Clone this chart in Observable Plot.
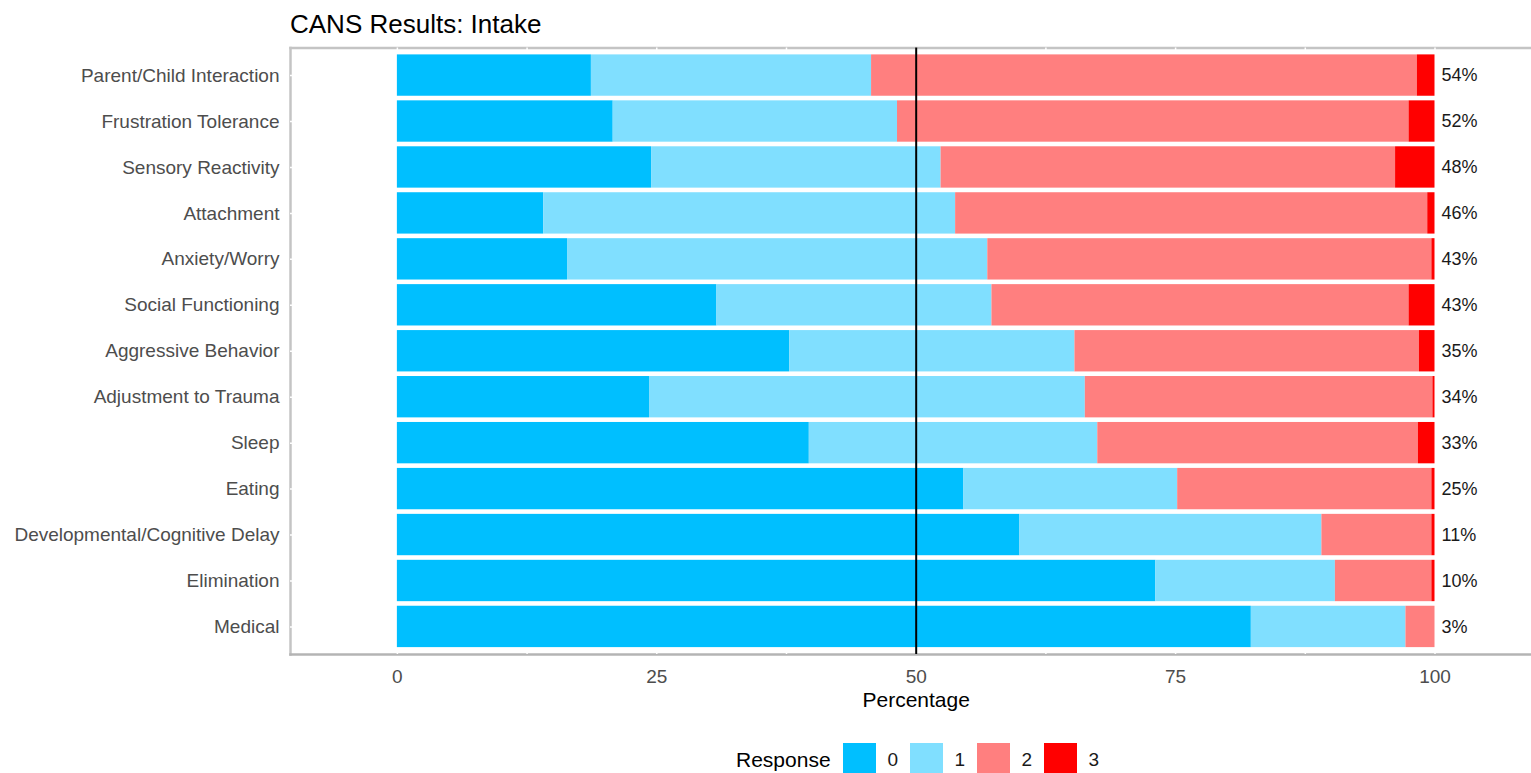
<!DOCTYPE html>
<html>
<head>
<meta charset="utf-8">
<script src="https://cdn.jsdelivr.net/npm/d3@7"></script>
<script src="https://cdn.jsdelivr.net/npm/@observablehq/plot@0.6"></script>
<style>
  html, body { margin: 0; padding: 0; background: #fff; overflow: hidden; }
  body { width: 1531px; height: 773px; position: relative; font-family: "Liberation Sans", Arial, sans-serif; }
  #title { position: absolute; left: 290px; top: 11px; font-size: 26px; line-height: 26px; color: #000; white-space: nowrap; }
  #chart { position: absolute; left: 0; top: 40px; }
  #legend { position: absolute; left: 736px; top: 743px; display: flex; align-items: center; height: 33px; }
  #legend .ttl { font-size: 21px; color: #000; margin-right: 12px; }
  #legend .key { width: 33px; height: 33px; margin-right: 12px; }
  #legend .lab { font-size: 19px; color: #1a1a1a; margin-right: 12px; width: 10px; }
</style>
</head>
<body>
<div id="title">CANS Results: Intake</div>
<div id="chart"></div>
<div id="legend"></div>
<script>
const categories = [
  "Parent/Child Interaction", "Frustration Tolerance", "Sensory Reactivity", "Attachment",
  "Anxiety/Worry", "Social Functioning", "Aggressive Behavior", "Adjustment to Trauma",
  "Sleep", "Eating", "Developmental/Cognitive Delay", "Elimination", "Medical"
];
const resp0 = [18.7, 20.8, 24.5, 14.1, 16.4, 30.8, 37.8, 24.3, 39.7, 54.6, 60.0, 73.1, 82.3];
const resp1 = [27.0, 27.4, 27.9, 39.7, 40.5, 26.5, 27.5, 42.0, 27.8, 20.6, 29.1, 17.3, 14.9];
const resp2 = [52.6, 49.3, 43.8, 45.5, 42.8, 40.2, 33.2, 33.5, 30.9, 24.5, 10.6, 9.3, 2.8];
const resp3 = [1.7, 2.5, 3.8, 0.7, 0.3, 2.5, 1.5, 0.2, 1.6, 0.3, 0.3, 0.3, 0.0];
const pctLabels = ["54%", "52%", "48%", "46%", "43%", "43%", "35%", "34%", "33%", "25%", "11%", "10%", "3%"];
const responses = ["0", "1", "2", "3"];
const colors = ["#00BFFF", "#80DFFF", "#FF7F7F", "#FF0000"];
const xTicks = [0, 25, 50, 75, 100];
const gridTicks = [0, 12.5, 25, 37.5, 50, 62.5, 75, 87.5, 100];
const xDomain = [-10.3, 109.3];
const midline = 50;
const labelAt = 100;

const series = [resp0, resp1, resp2, resp3];
const long = [];
categories.forEach((c, i) => {
  responses.forEach((r, j) => long.push({category: c, response: r, value: series[j][i]}));
});
const labels = categories.map((c, i) => ({category: c, text: pctLabels[i], x: labelAt}));

const plot = Plot.plot({
  width: 1531,
  height: 680,
  marginLeft: 290,
  marginRight: 0,
  marginTop: 7.5,
  marginBottom: 66,
  style: {fontFamily: "'Liberation Sans', Arial, sans-serif", fontSize: "19px", background: "white", overflow: "visible"},
  x: {domain: xDomain, label: null},
  y: {domain: categories, paddingInner: 0.1, paddingOuter: 0.15, round: false, label: null},
  color: {domain: responses, range: colors},
  marks: [
    Plot.frame({anchor: "left", stroke: "#C4C4C4", strokeWidth: 2.5}),
    Plot.frame({anchor: "top", stroke: "#C4C4C4", strokeWidth: 2.5}),
    Plot.frame({anchor: "bottom", stroke: "#B4B4B4", strokeWidth: 2.5}),
    Plot.gridX(gridTicks, {stroke: "white", strokeOpacity: 1, strokeWidth: 1.5}),
    Plot.gridY({stroke: "white", strokeOpacity: 1, strokeWidth: 1.5}),
    Plot.barX(long, Plot.stackX({y: "category", x: "value", fill: "response", order: null})),
    Plot.ruleX([midline], {stroke: "black", strokeWidth: 2}),
    Plot.text(labels, {x: "x", y: "category", text: "text", textAnchor: "start", dx: 6.5, fontSize: 18, fill: "#1a1a1a"}),
    Plot.axisY({tickSize: 0, tickPadding: 11, fontSize: 19, fill: "#4D4D4D", label: null}),
    Plot.axisX(xTicks, {tickSize: 0, tickPadding: 15, fontSize: 19, fill: "#4D4D4D", label: null}),
    Plot.text([{x: midline, t: "Percentage"}], {x: "x", text: "t", frameAnchor: "bottom", dy: 46, lineAnchor: "middle", fontSize: 21, fill: "#000"})
  ]
});
document.getElementById("chart").appendChild(plot);

const legend = document.getElementById("legend");
const ttl = document.createElement("span");
ttl.className = "ttl"; ttl.textContent = "Response";
legend.appendChild(ttl);
responses.forEach((r, i) => {
  const k = document.createElement("span");
  k.className = "key"; k.style.background = colors[i];
  legend.appendChild(k);
  const l = document.createElement("span");
  l.className = "lab"; l.textContent = r;
  legend.appendChild(l);
});
</script>
</body>
</html>
